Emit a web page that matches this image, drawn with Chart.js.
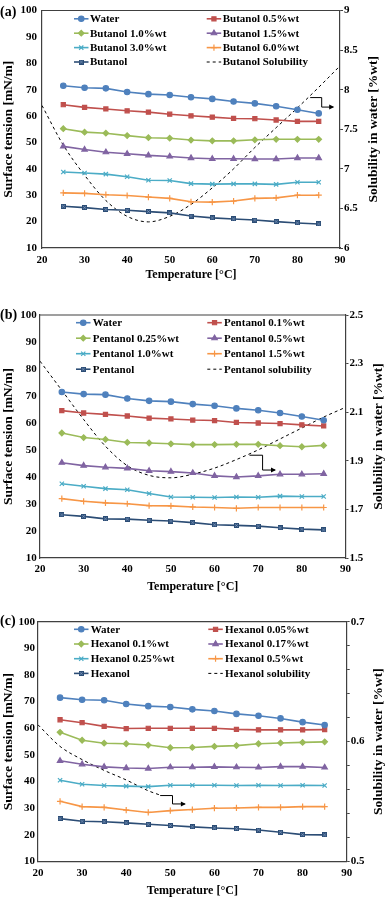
<!DOCTYPE html>
<html><head><meta charset="utf-8">
<script src="https://cdn.jsdelivr.net/npm/chart.js@4.4.1/dist/chart.umd.min.js"></script>
<style>
html,body{margin:0;padding:0;background:#fff;width:387px;height:898px;overflow:hidden}
canvas{position:absolute;left:0}
</style></head><body>
<canvas id="ca" width="387" height="295" style="top:0px"></canvas>
<canvas id="cb" width="387" height="296" style="top:300px"></canvas>
<canvas id="cc" width="387" height="298" style="top:600px"></canvas>
<script>
// ---------- DATA ----------
const temps = [25,30,35,40,45,50,55,60,65,70,75,80,85];
const xTicks = [20,30,40,50,60,70,80,90];

// Panel (a) butanol
const waterA  = [71.5,70.7,70.5,69.1,68.3,68.0,67.1,66.5,65.5,64.8,63.7,62.4,61.0];
const but05   = [64.3,63.3,62.7,62.0,61.5,60.7,60.1,59.6,59.1,59.0,58.5,58.0,58.0];
const but10   = [55.2,53.9,53.5,52.6,51.8,51.6,50.9,50.6,50.6,51.0,51.2,51.2,51.2];
const but15   = [48.5,47.3,46.3,45.7,45.1,44.7,44.1,43.8,43.8,43.7,43.7,44.1,44.1];
const but30   = [38.8,38.4,38.0,37.0,35.7,35.6,34.4,34.2,34.3,34.3,34.1,34.9,34.9];
const but60   = [30.9,30.7,30.2,29.9,29.3,28.8,27.5,27.4,27.8,28.8,29.0,30.0,30.0];
const butanol = [25.8,25.3,24.6,24.3,23.8,23.3,22.1,21.4,21.0,20.6,20.0,19.5,19.1];
const butSolT = [20,25,30,35,40,45,50,55,60,65,70,75,80,85,90];
const butSol  = [7.8,7.3,6.92,6.6,6.4,6.33,6.4,6.55,6.76,7.0,7.27,7.52,7.77,8.03,8.3];
const labelsA = ['Water','Butanol 0.5%wt','Butanol 1.0%wt','Butanol 1.5%wt','Butanol 3.0%wt','Butanol 6.0%wt','Butanol','Butanol Solubility'];

// Panel (b) pentanol
const waterB   = [71.5,70.7,70.5,69.1,68.2,67.9,67.0,66.4,65.4,64.7,63.7,62.4,61.0];
const pen01    = [64.6,63.7,63.2,62.6,61.8,61.5,61.1,60.9,60.2,60.0,59.8,59.3,58.9];
const pen025   = [56.3,54.6,53.9,52.8,52.6,52.3,52.0,52.0,52.1,52.1,51.6,51.2,51.7];
const pen05    = [45.3,44.2,43.6,43.2,42.3,42.0,41.5,40.4,40.0,40.4,41.0,41.0,41.2];
const pen10    = [37.5,36.6,35.7,35.3,33.9,32.6,32.5,32.4,32.6,32.5,32.9,32.8,32.8];
const pen15    = [32.0,31.0,30.4,30.1,29.4,29.3,28.9,28.7,28.4,28.7,28.7,28.7,28.7];
const pentanol = [26.0,25.4,24.5,24.4,24.0,23.7,23.1,22.3,22.1,21.8,21.2,20.7,20.4];
const penSolT  = [20,25,30,35,40,45,50,55,60,65,70,75,80,85,90];
const penSol   = [2.31,2.19,2.07,1.96,1.88,1.84,1.83,1.845,1.87,1.905,1.945,1.99,2.035,2.08,2.12];
const labelsB = ['Water','Pentanol 0.1%wt','Pentanol 0.25%wt','Pentanol 0.5%wt','Pentanol 1.0%wt','Pentanol 1.5%wt','Pentanol','Pentanol solubility'];

// Panel (c) hexanol
const waterC  = [71.5,70.7,70.5,69.1,68.3,68.0,67.1,66.5,65.4,64.7,63.7,62.3,61.2];
const hex005  = [63.2,62.1,60.7,59.9,60.0,60.0,60.0,60.0,59.6,59.4,59.4,59.4,59.5];
const hex01   = [58.5,55.5,54.4,54.2,53.7,52.7,52.8,53.2,53.5,54.2,54.5,54.7,54.9];
const hex017  = [47.8,46.5,45.5,45.1,44.9,45.4,45.4,45.5,45.4,45.3,45.6,45.6,45.3];
const hex025  = [40.5,39.0,38.5,38.3,38.1,38.6,38.6,38.6,38.5,38.6,38.5,38.6,38.5];
const hex05   = [32.6,30.6,30.3,29.3,28.4,29.1,29.5,30.0,30.1,30.3,30.3,30.6,30.6];
const hexanol = [26.1,25.1,24.9,24.5,24.0,23.5,23.0,22.6,22.3,21.8,21.0,20.1,20.0];
const hexSolT = [20,25,30,35,40,45,48];
const hexSol  = [0.614,0.596,0.585,0.576,0.568,0.559,0.555];
const labelsC = ['Water','Hexanol 0.05%wt','Hexanol 0.1%wt','Hexanol 0.17%wt','Hexanol 0.25%wt','Hexanol 0.5%wt','Hexanol','Hexanol solubility'];

// ---------- STYLE ----------
const SERIF = "'Liberation Serif','Times New Roman',serif";
const AX = '#404040';
function squareX(color){
  const c=document.createElement('canvas'); c.width=5; c.height=5;
  const g=c.getContext('2d'); g.fillStyle=color; g.fillRect(0,0,5,5);
  g.strokeStyle='#8fa9d0'; g.lineWidth=0.8; g.beginPath();
  g.moveTo(1.2,1.2); g.lineTo(3.8,3.8); g.moveTo(3.8,1.2); g.lineTo(1.2,3.8); g.stroke();
  return c;
}
const STY = [
  {c:'#4F81BD', ps:'circle', r:2.7},
  {c:'#C0504D', ps:'rect', r:2.9},
  {c:'#9BBB59', ps:'rectRot', r:2.8},
  {c:'#8064A2', ps:'triangle', r:3.1},
  {c:'#4BACC6', ps:'crossRot', r:3},
  {c:'#F79646', ps:'cross', r:3.1},
  {c:'#2C4D75', ps:squareX('#2C4D75'), r:3}
];

const extras = {
  id:'extras',
  afterDraw(chart, args, o){
    const ctx=chart.ctx, ca=chart.chartArea, xs=chart.scales.x, y1=chart.scales.y1;
    ctx.save();
    // top border
    ctx.strokeStyle=AX; ctx.lineWidth=1.2;
    ctx.beginPath(); ctx.moveTo(ca.left,ca.top); ctx.lineTo(ca.right,ca.top); ctx.stroke();
    // panel letter
    ctx.fillStyle='#000'; ctx.font='bold 14px '+SERIF; ctx.textBaseline='middle'; ctx.textAlign='left';
    ctx.fillText(o.letter, 0, ca.top + o.letterDy);
    // right axis title (reads bottom to top)
    ctx.save();
    ctx.translate(chart.width - o.y1TitleOff, (ca.top+ca.bottom)/2);
    ctx.rotate(-Math.PI/2);
    ctx.font='bold 13.5px '+SERIF; ctx.textAlign='center'; ctx.textBaseline='middle';
    ctx.fillText('Solubility in water [%wt]',0,0);
    ctx.restore();
    // legend
    ctx.font='bold 11px '+SERIF; ctx.textBaseline='middle'; ctx.textAlign='left';
    chart.data.datasets.forEach((ds,i)=>{
      const col=i%2, row=Math.floor(i/2);
      const x0 = ca.left + (col? o.leg.c2 : o.leg.c1);
      const y = ca.top + o.leg.y0 + row*o.leg.dy;
      ctx.save();
      ctx.strokeStyle=ds.borderColor; ctx.lineWidth=ds.borderWidth;
      ctx.setLineDash(ds.borderDash||[]);
      ctx.beginPath(); ctx.moveTo(x0,y); ctx.lineTo(x0+14.5,y); ctx.stroke();
      ctx.setLineDash([]);
      if (ds.pointRadius>0 && Chart.helpers && Chart.helpers.drawPoint){
        ctx.fillStyle=ds.pointBackgroundColor; ctx.strokeStyle=ds.pointBorderColor; ctx.lineWidth=ds.pointBorderWidth;
        Chart.helpers.drawPoint(ctx,{pointStyle:ds.pointStyle,rotation:0,radius:ds.pointRadius,borderWidth:ds.pointBorderWidth},x0+7.25,y);
      }
      ctx.restore();
      ctx.fillStyle='#000';
      ctx.fillText(ds.label, x0+o.leg.tx, y+0.5);
    });
    // arrow annotation
    const pts=o.arrow.map(p=>[xs.getPixelForValue(p[0]), y1.getPixelForValue(p[1])]);
    ctx.strokeStyle='#000'; ctx.lineWidth=1; ctx.beginPath();
    pts.forEach((p,k)=>k?ctx.lineTo(p[0],p[1]):ctx.moveTo(p[0],p[1])); ctx.stroke();
    const e=pts[pts.length-1];
    ctx.fillStyle='#000'; ctx.beginPath(); ctx.moveTo(e[0]+1,e[1]); ctx.lineTo(e[0]-4,e[1]-2.5); ctx.lineTo(e[0]-4,e[1]+2.5); ctx.closePath(); ctx.fill();
    ctx.restore();
  }
};

function build(id, P){
  const datasets = P.series.map((vals,i)=>({
    label:P.labels[i], yAxisID:'y',
    data: temps.map((t,k)=>({x:t,y:vals[k]})),
    borderColor:STY[i].c, backgroundColor:STY[i].c,
    pointBackgroundColor:STY[i].c, pointBorderColor:STY[i].c, pointBorderWidth:1.2,
    pointStyle:STY[i].ps, pointRadius:STY[i].r, borderWidth:1.6, tension:0
  }));
  datasets.push({
    label:P.labels[7], yAxisID:'y1',
    data: P.solT.map((t,k)=>({x:t,y:P.sol[k]})),
    borderColor:'#000', backgroundColor:'#000', borderWidth:1, borderDash:[3,3],
    pointRadius:0, pointBorderWidth:0, tension:0.4, cubicInterpolationMode:'monotone'
  });
  const tf = {weight:'bold', size:11, family:SERIF, lineHeight:1};
  new Chart(document.getElementById(id), {
    type:'line',
    data:{datasets},
    plugins:[extras],
    options:{
      responsive:false, animation:false, events:[],
      layout:{padding:{top:P.padTop,left:0,right:0,bottom:0}},
      plugins:{legend:{display:false}, tooltip:{enabled:false}, extras:P.ex},
      scales:{
        x:{type:'linear', min:20, max:90,
           afterBuildTicks:s=>{s.ticks=xTicks.map(v=>({value:v}));},
           ticks:{font:tf, color:'#000', padding:P.xTickPad, callback:v=>String(v)},
           grid:{display:false, drawTicks:false},
           border:{display:true, color:AX, width:1.2},
           title:{display:true, text:'Temperature [°C]', color:'#000', font:{weight:'bold',size:12,family:SERIF}, padding:{top:0,bottom:P.xTitlePad}},
           afterFit:s=>{s.height=P.xH;}},
        y:{type:'linear', position:'left', min:10, max:100,
           ticks:{stepSize:10, font:tf, color:'#000', padding:P.yTickPad},
           grid:{display:false, drawTicks:false},
           border:{display:true, color:AX, width:1.2},
           title:{display:true, text:'Surface tension [mN/m]', color:'#000', font:{weight:'bold',size:13.5,family:SERIF}, padding:{top:0,bottom:0}},
           afterFit:s=>{s.width=P.yW;}},
        y1:{type:'linear', position:'right', min:P.y1min, max:P.y1max,
           ticks:{stepSize:P.y1step, font:tf, color:'#000', padding:1, callback:P.y1cb},
           grid:{display:true, drawOnChartArea:false, drawTicks:true, tickLength:3, color:AX, lineWidth:1},
           border:{display:true, color:AX, width:1.2},
           title:{display:false},
           afterFit:s=>{s.width=P.y1W;}}
      }
    }
  });
}
const fmt = v=>String(+(+v).toFixed(2));

build('ca',{
  series:[waterA,but05,but10,but15,but30,but60,butanol], labels:labelsA,
  solT:butSolT, sol:butSol, y1min:6, y1max:9, y1step:0.5, y1cb:fmt,
  padTop:5, xH:47, xTickPad:6.5, xTitlePad:12.8, yW:42, yTickPad:5, y1W:47,
  ex:{letter:'(a)', letterDy:2, y1TitleOff:13, leg:{c1:32,c2:164.7,y0:8.3,dy:14.4,tx:16},
      arrow:[[83,7.9],[85.7,7.9],[85.7,7.78],[88.4,7.78]]}
});
build('cb',{
  series:[waterB,pen01,pen025,pen05,pen10,pen15,pentanol], labels:labelsB,
  solT:penSolT, sol:penSol, y1min:1.5, y1max:2.5, y1step:0.2, y1cb:fmt,
  padTop:15, xH:38, xTickPad:5.5, xTitlePad:2.1, yW:40, yTickPad:3.3, y1W:41.5,
  ex:{letter:'(b)', letterDy:0, y1TitleOff:8, leg:{c1:36,c2:167.3,y0:7.7,dy:15.5,tx:16.7},
      arrow:[[68,1.923],[71,1.923],[71,1.862],[73.85,1.862]]}
});
build('cc',{
  series:[waterC,hex005,hex01,hex017,hex025,hex05,hexanol], labels:labelsC,
  solT:hexSolT, sol:hexSol, y1min:0.5, y1max:0.7, y1step:0.02,
  y1cb:v=>{const t=v*10; return Math.abs(t-Math.round(t))<1e-6 ? (+v).toFixed(1) : '';},
  padTop:21.7, xH:36.5, xTickPad:5.7, xTitlePad:0.1, yW:38, yTickPad:3, y1W:40.3,
  ex:{letter:'(c)', letterDy:0, y1TitleOff:8, leg:{c1:36,c2:170.3,y0:7.6,dy:14.7,tx:16.7},
      arrow:[[47.7,0.555],[50.5,0.555],[50.5,0.548],[53.3,0.548]]}
});
</script>
</body></html>
